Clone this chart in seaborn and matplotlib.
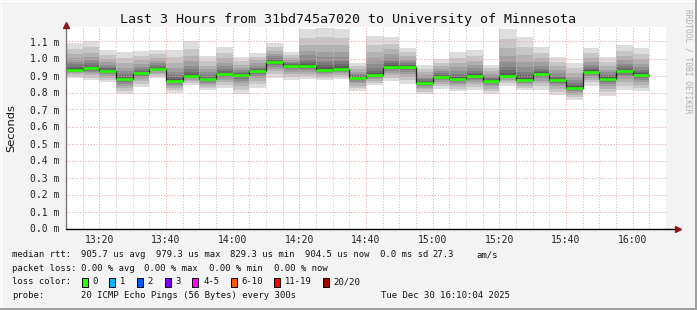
import numpy as np
import pandas as pd
import matplotlib
matplotlib.use("Agg")
import matplotlib.pyplot as plt
import seaborn as sns
from matplotlib.lines import Line2D

# ---------------- data ----------------
start_times = ["13:10", "13:15", "13:20", "13:25", "13:30", "13:35", "13:40",
               "13:45", "13:50", "13:55", "14:00", "14:05", "14:10", "14:15",
               "14:20", "14:25", "14:30", "14:35", "14:40", "14:45", "14:50",
               "14:55", "15:00", "15:05", "15:10", "15:15", "15:20", "15:25",
               "15:30", "15:35", "15:40", "15:45", "15:50", "15:55", "16:00"]
median_ms = [0.935, 0.943, 0.928, 0.877, 0.913, 0.940, 0.868, 0.898, 0.877,
             0.908, 0.901, 0.925, 0.979, 0.958, 0.955, 0.935, 0.940, 0.885,
             0.902, 0.952, 0.950, 0.857, 0.892, 0.880, 0.898, 0.869, 0.900,
             0.874, 0.910, 0.874, 0.829, 0.922, 0.882, 0.924, 0.9045]
max_ms = [1.094, 1.100, 1.051, 1.039, 1.045, 1.051, 1.051, 1.100, 1.016,
          1.069, 1.008, 1.034, 1.094, 1.039, 1.171, 1.180, 1.175, 0.973,
          1.133, 1.126, 1.061, 0.963, 1.000, 1.039, 1.051, 0.963, 1.175,
          1.126, 1.069, 1.010, 0.975, 1.063, 1.006, 1.081, 1.059]
min_ms = [0.888, 0.871, 0.859, 0.790, 0.835, 0.885, 0.796, 0.845, 0.814,
          0.826, 0.790, 0.826, 0.885, 0.871, 0.879, 0.871, 0.879, 0.810,
          0.845, 0.869, 0.851, 0.790, 0.822, 0.806, 0.812, 0.790, 0.841,
          0.816, 0.816, 0.786, 0.757, 0.841, 0.782, 0.816, 0.806]
y_tick_labels = ["0.0 m", "0.1 m", "0.2 m", "0.3 m", "0.4 m", "0.5 m",
                 "0.6 m", "0.7 m", "0.8 m", "0.9 m", "1.0 m", "1.1 m"]
x_tick_labels = ["13:20", "13:40", "14:00", "14:20", "14:40", "15:00",
                 "15:20", "15:40", "16:00"]
loss_labels = ["0", "1", "2", "3", "4-5", "6-10", "11-19", "20/20"]
loss_colors = ["#26ff00", "#00b8ff", "#0059ff", "#7e00ff", "#ff00ff",
               "#ff5500", "#ff0000", "#a10000"]

title = "Last 3 Hours from 31bd745a7020 to University of Minnesota"

# ---------------- helpers ----------------
W, H = 697, 310
def to_min(s):
    h, m = s.split(":")
    return (int(h) - 13) * 60 + int(m) - 10   # minutes since 13:10

x0 = np.array([to_min(s) for s in start_times], dtype=float)
step = 5.0
med = np.array(median_ms)
hi = np.array(max_ms)
lo = np.array(min_ms)

sns.set_style("white")
mono = "DejaVu Sans Mono"

fig = plt.figure(figsize=(W / 100, H / 100), dpi=100)
fig.patch.set_facecolor("#f3f3f3")

y0px, ytop = 228.5, 27.0
px_per_unit = 170.0  # pixels per ms
ax = fig.add_axes([66 / W, (H - y0px) / H, 600 / W, (y0px - ytop) / H])
ax.set_facecolor("white")
ax.set_xlim(0, 180)
ax.set_ylim(0, (y0px - ytop) / px_per_unit)
for sp in ax.spines.values():
    sp.set_visible(False)

# smoke layers (outermost = lightest)
n_layers = 10
for k in range(n_layers):
    f = ((n_layers - k) / n_layers) ** 2.4
    top = med + (hi - med) * f
    bot = med - (med - lo) * f
    g = 0.865 - 0.64 * (k / (n_layers - 1)) ** 0.9
    ax.bar(x0, top - bot, bottom=bot, width=step, align="edge",
           color=(g, g, g), linewidth=0, antialiased=False, zorder=1 + k * 0.01)

# grid (dotted, on top of smoke)
dot = (0, (1.0, 1.6))
for v in np.arange(0.1, 1.15, 0.1):
    ax.axhline(v, color="#eaa8a8", lw=0.75, ls=dot, zorder=3)
for t in np.arange(5, 180, 5):
    major = (t - 10) % 20 == 0
    ax.axvline(t, color="#eaa8a8" if major else "#c4c4c4", lw=0.75,
               ls=dot, zorder=3)

# median step line + green segments
df = pd.DataFrame({"t": np.append(x0, x0[-1] + step),
                   "rtt": np.append(med, med[-1])})
sns.lineplot(data=df, x="t", y="rtt", drawstyle="steps-post", color="#222222",
             lw=0.9, ax=ax, zorder=4)
ax.hlines(med, x0, x0 + step, color=loss_colors[0], lw=1.9, zorder=5)
ax.set_xlabel("")
ax.set_ylabel("")

# ticks
ax.set_yticks(np.arange(0, 1.15, 0.1))
ax.set_yticklabels(y_tick_labels, family=mono, fontsize=7.0, color="#222222")
ax.set_xticks([to_min(s) for s in x_tick_labels])
ax.set_xticklabels(x_tick_labels, family=mono, fontsize=7.0, color="#222222")
ax.tick_params(axis="y", length=3, width=0.7, color="#aaaaaa", pad=2)
ax.tick_params(axis="x", length=2, width=0.7, color="#aaaaaa", pad=3)

# axes lines with arrows
ymax = ax.get_ylim()[1]
ax.plot([0, 0], [0, ymax], color="#777777", lw=1.0, clip_on=False, zorder=6)
ax.plot([0, 183], [0, 0], color="black", lw=1.0, clip_on=False, zorder=6)
ax.plot([0], [ymax + 0.012], marker="^", color="#8b1a1a", ms=4.5,
        clip_on=False, zorder=7)
ax.plot([183.5], [0], marker=">", color="#8b1a1a", ms=4.5,
        clip_on=False, zorder=7)

def ftext(x, y, s, **kw):
    fig.text(x / W, 1 - y / H, s, **kw)

# title and labels
ftext(348, 19, title, family=mono, fontsize=9.6, ha="center", va="center",
      color="#111111")
ftext(11, 128, "Seconds", fontsize=8.2, rotation=90, ha="center",
      va="center", color="#111111")
ftext(688, 61, "RRDTOOL / TOBI OETIKER", family=mono, fontsize=5.7,
      rotation=270, ha="center", va="center", color="#b0b0b0")

# legend
lf = dict(family=mono, fontsize=6.4, va="center", ha="left", color="#111111")
r1, r2, r3, r4 = 254.7, 268.3, 282.0, 296.0
ftext(12, r1, "median rtt:", **lf)
for x, s in [(80.7, "905.7 us avg"), (155.7, "979.3 us max"),
             (230.3, "829.3 us min"), (305, "904.5 us now"),
             (380, "0.0 ms sd"), (432.7, "27.3"), (476, "am/s")]:
    ftext(x, r1, s, **lf)
ftext(12, r2, "packet loss:", **lf)
for x, s in [(80.7, "0.00 % avg"), (144, "0.00 % max"),
             (209.3, "0.00 % min"), (274, "0.00 % now")]:
    ftext(x, r2, s, **lf)
ftext(12, r3, "loss color:", **lf)
box_x = [81.7, 109, 136.7, 164.7, 192.3, 230.7, 274, 322.7]
for bx, lab, col in zip(box_x, loss_labels, loss_colors):
    fig.patches.append(plt.Rectangle((bx / W, 1 - (r3 + 4.5) / H), 6 / W,
                                     9 / H, transform=fig.transFigure,
                                     facecolor=col, edgecolor="black", lw=0.7))
    ftext(bx + 11, r3, lab, **lf)
ftext(12, r4, "probe:", **lf)
ftext(80.7, r4, "20 ICMP Echo Pings (56 Bytes) every 300s", **lf)
ftext(510, r4, "Tue Dec 30 16:10:04 2025", family=mono, fontsize=6.4,
      va="center", ha="right", color="#111111")

# frame border
fig.lines.append(Line2D([0, 1], [1 - 0.5 / H, 1 - 0.5 / H],
                        transform=fig.transFigure, color="white", lw=1))
fig.lines.append(Line2D([0.5 / W, 0.5 / W], [0, 1],
                        transform=fig.transFigure, color="white", lw=1))
fig.lines.append(Line2D([1 - 1.5 / W, 1 - 1.5 / W], [0, 1],
                        transform=fig.transFigure, color="#9e9e9e", lw=1.4))
fig.lines.append(Line2D([0, 1], [1.5 / H, 1.5 / H],
                        transform=fig.transFigure, color="#9e9e9e", lw=1.4))

fig.savefig("out.png", dpi=100, facecolor=fig.get_facecolor())
